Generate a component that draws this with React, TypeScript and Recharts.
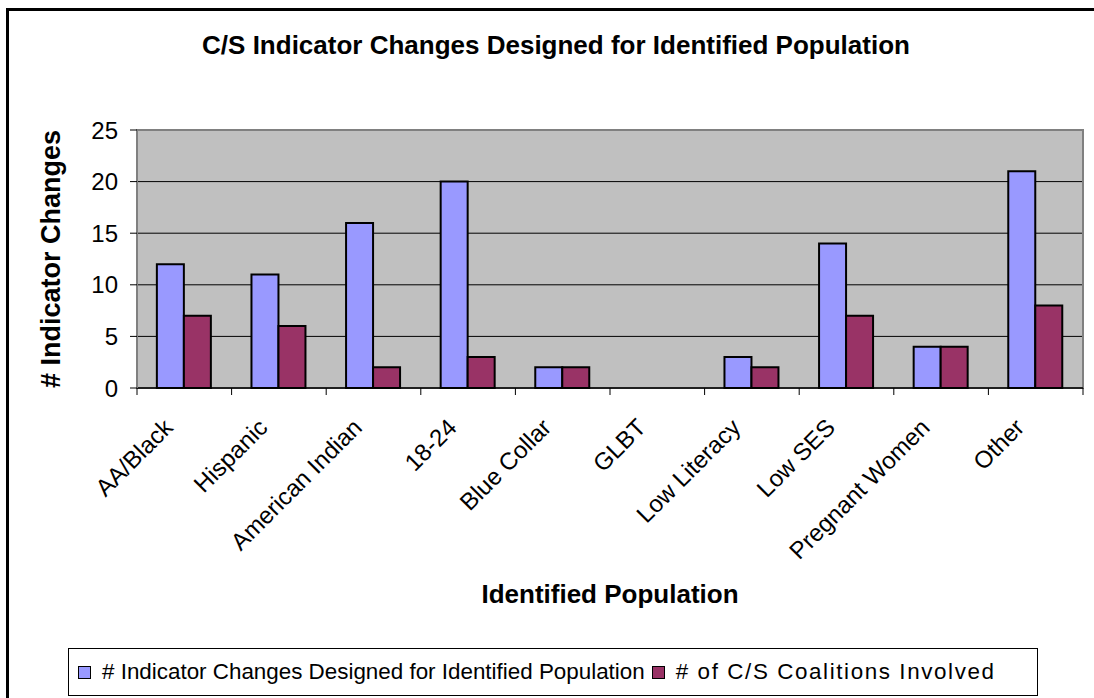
import React from 'react';
import { BarChart, Bar, XAxis, YAxis, CartesianGrid, Legend, ReferenceArea } from 'recharts';

const categories = ['AA/Black', 'Hispanic', 'American Indian', '18-24', 'Blue Collar', 'GLBT', 'Low Literacy', 'Low SES', 'Pregnant Women', 'Other'];
const indicatorChanges = [12, 11, 16, 20, 2, 0, 3, 14, 4, 21];
const coalitionsInvolved = [7, 6, 2, 3, 2, 0, 2, 7, 4, 8];
const yTicks = [0, 5, 10, 15, 20, 25];
const gridValues = [5, 10, 15, 20];
const seriesNames = ['# Indicator Changes Designed for Identified Population', '# of C/S Coalitions Involved'];

const FONT = "'Liberation Sans', Arial, sans-serif";

const data = categories.map((name, i) => ({
  name,
  changes: indicatorChanges[i],
  coalitions: coalitionsInvolved[i],
}));

// tick marks sit between categories, like Excel does
function CategoryTick(props: any) {
  const { x, y, payload, index, visibleTicksCount, width } = props;
  const count = visibleTicksCount || categories.length;
  const band = (typeof width === 'number' ? width : 946) / count;
  const tx = x - 10;
  const ty = y + 41;
  return (
    <g>
      <line x1={x - band / 2} x2={x - band / 2} y1={y} y2={y + 7} stroke="#000" />
      {index === count - 1 && <line x1={x + band / 2} x2={x + band / 2} y1={y} y2={y + 7} stroke="#000" />}
      <text x={tx} y={ty} transform={`rotate(-45, ${tx}, ${ty})`} textAnchor="end" fontSize={24} fill="#000" fontFamily={FONT}>
        {payload.value}
      </text>
    </g>
  );
}

function LegendBox(props: any) {
  const payload = props.payload || [];
  return (
    <div
      style={{
        boxSizing: 'border-box',
        width: 970,
        height: 48,
        border: '1.5px solid #000',
        display: 'flex',
        alignItems: 'center',
        paddingLeft: 9,
        fontSize: 22.4,
        fontFamily: FONT,
        color: '#000',
        whiteSpace: 'nowrap',
        background: '#fff',
      }}
    >
      {payload.map((p: any, i: number) => (
        <span key={i} style={{ display: 'flex', alignItems: 'center', marginRight: 7, letterSpacing: i === 1 ? 1.6 : 0 }}>
          <span style={{ width: 11, height: 11, border: '1.5px solid #000', background: p.color, marginRight: 11 }} />
          {p.value}
        </span>
      ))}
    </div>
  );
}

export default function App() {
  return (
    <div style={{ position: 'fixed', left: 0, top: 0, width: 1094, height: 698, overflow: 'hidden', background: '#fff' }}>
      <div style={{ position: 'absolute', left: 6, top: 8, width: 1100, height: 700, border: '3px solid #000', fontFamily: FONT }}>
        <div
          style={{
            position: 'absolute',
            left: 147,
            top: 21,
            width: 800,
            textAlign: 'center',
            fontSize: 26,
            lineHeight: '26px',
            fontWeight: 'bold',
            color: '#000',
          }}
        >
          C/S Indicator Changes Designed for Identified Population
        </div>
        <BarChart
          width={1100}
          height={700}
          data={data}
          margin={{ top: 119, right: 26, left: 68, bottom: 213 }}
          barCategoryGap="21%"
          barGap={0}
        >
          <CartesianGrid vertical={false} fill="#C0C0C0" fillOpacity={1} stroke="#000" horizontalValues={gridValues} />
          <XAxis
            dataKey="name"
            interval={0}
            height={110}
            tickLine={false}
            tickSize={0}
            tickMargin={0}
            axisLine={{ stroke: '#000', strokeWidth: 1.5 }}
            tick={<CategoryTick />}
            label={{
              content: (p: any) => {
                const vb = p.viewBox || { x: 128, y: 377, width: 946 };
                return (
                  <text x={vb.x + vb.width / 2} y={vb.y + 215} textAnchor="middle" fontSize={26} fontWeight="bold" fill="#000" fontFamily={FONT}>
                    Identified Population
                  </text>
                );
              },
            }}
          />
          <YAxis
            domain={[0, 25]}
            ticks={yTicks}
            width={60}
            interval={0}
            tickSize={7}
            tickMargin={12}
            tickLine={{ stroke: '#000' }}
            axisLine={{ stroke: '#808080', strokeWidth: 2 }}
            tick={{ fill: '#000', fontSize: 24, fontFamily: FONT }}
            label={{
              content: (p: any) => {
                const vb = p.viewBox || { x: 68, y: 119, height: 258 };
                const lx = vb.x - 17;
                const ly = vb.y + vb.height / 2;
                return (
                  <text x={lx} y={ly} transform={`rotate(-90, ${lx}, ${ly})`} textAnchor="middle" fontSize={27} fontWeight="bold" fill="#000" fontFamily={FONT}>
                    # Indicator Changes
                  </text>
                );
              },
            }}
          />
          <ReferenceArea y1={0} y2={25} fill="none" stroke="#808080" strokeWidth={2} ifOverflow="visible" />
          <Bar dataKey="changes" name={seriesNames[0]} fill="#9999FF" stroke="#000" strokeWidth={2} isAnimationActive={false} />
          <Bar dataKey="coalitions" name={seriesNames[1]} fill="#993366" stroke="#000" strokeWidth={2} isAnimationActive={false} />
          <Legend
            layout="horizontal"
            verticalAlign="middle"
            align="center"
            content={<LegendBox />}
            wrapperStyle={{ left: 59, top: 637, width: 970, height: 48 }}
          />
        </BarChart>
      </div>
    </div>
  );
}
